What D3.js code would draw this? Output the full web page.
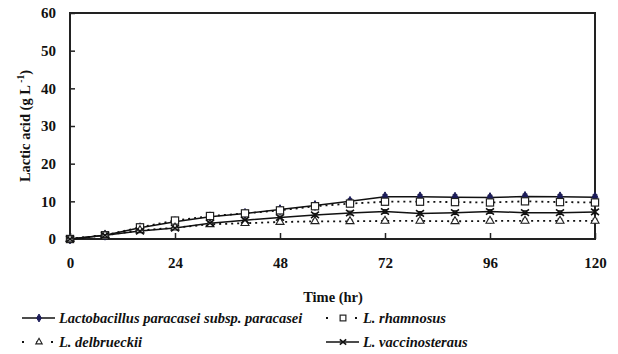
<!DOCTYPE html>
<html><head><meta charset="utf-8">
<script src="https://cdn.jsdelivr.net/npm/d3@7"></script>
<style>
html,body{margin:0;padding:0;background:#fff;}
svg{display:block;}
text{font-family:"Liberation Serif","Times New Roman",serif;font-weight:bold;fill:#111;}
</style></head>
<body>
<svg id="chart" width="618" height="354"></svg>
<script>
const times = [0, 8, 16, 24, 32, 40, 48, 56, 64, 72, 80, 88, 96, 104, 112, 120];
const paracasei = [0, 1.0, 3.0, 4.6, 5.9, 6.8, 7.8, 8.9, 10.0, 11.2, 11.2, 11.1, 11.0, 11.3, 11.2, 11.1];
const rhamnosus = [0, 1.0, 3.1, 4.9, 6.1, 6.8, 7.6, 8.7, 9.4, 9.9, 9.9, 9.8, 9.7, 10.0, 9.8, 9.7];
const delbrueckii = [0, 1.0, 2.3, 3.0, 3.9, 4.2, 4.5, 4.7, 4.7, 4.8, 4.8, 4.7, 4.8, 4.8, 4.8, 4.8];
const vaccinosteraus = [0, 1.0, 2.1, 2.9, 4.2, 5.0, 5.7, 6.4, 6.9, 7.3, 6.8, 7.0, 7.3, 7.0, 7.0, 7.2];
const errParacasei = [0, 0.2, 0.3, 0.3, 0.3, 0.3, 0.4, 0.4, 0.6, 0.6, 0.6, 0.6, 0.6, 0.6, 0.6, 0.6];
const errOther = [0, 0.2, 0.3, 0.3, 0.3, 0.3, 0.4, 0.4, 0.5, 0.5, 0.5, 0.5, 0.5, 0.5, 0.5, 0.5];
const xTicks = [0, 24, 48, 72, 96, 120];
const yTicks = [0, 10, 20, 30, 40, 50, 60];
const seriesNames = ["Lactobacillus paracasei subsp. paracasei", "L. rhamnosus", "L. delbrueckii", "L. vaccinosteraus"];

const svg = d3.select("#chart");
const x = d3.scaleLinear().domain([0, 120]).range([70, 595]);
const y = d3.scaleLinear().domain([0, 60]).range([239, 13]);

// frame
svg.append("rect").attr("x", x(0)).attr("y", y(60)).attr("width", x(120) - x(0)).attr("height", y(0) - y(60))
  .attr("fill", "none").attr("stroke", "#222").attr("stroke-width", 2);

// axes
const xAxis = d3.axisBottom(x).tickValues(xTicks).tickSize(-6).tickPadding(18).tickFormat(d3.format("d"));
const gx = svg.append("g").attr("transform", `translate(0,${y(0)})`).call(xAxis);
gx.select(".domain").remove();
gx.selectAll(".tick line").attr("stroke", "#222").attr("stroke-width", 1.5);
gx.selectAll(".tick text").attr("font-size", 15).attr("dy", "0.71em").style("fill", "#111");

const yAxis = d3.axisLeft(y).tickValues(yTicks).tickSize(-5).tickPadding(14).tickFormat(d3.format("d"));
const gy = svg.append("g").attr("transform", `translate(${x(0)},0)`).call(yAxis);
gy.select(".domain").remove();
gy.selectAll(".tick line").attr("stroke", "#222").attr("stroke-width", 1.5);
gy.selectAll(".tick text").attr("font-size", 15).style("fill", "#111");

// axis titles
svg.append("text").attr("x", 333).attr("y", 302).attr("text-anchor", "middle").attr("font-size", 14.5).text("Time (hr)");
const yt = svg.append("text").attr("transform", "translate(30,126) rotate(-90)").attr("text-anchor", "middle").attr("font-size", 14.5);
yt.append("tspan").text("Lactic acid (g L");
yt.append("tspan").attr("font-size", 9.5).attr("dy", -6).text(" -1");
yt.append("tspan").attr("dy", 6).text(")");

const series = [
  {name: seriesNames[0], vals: paracasei, err: errParacasei, dash: null, marker: "diamond"},
  {name: seriesNames[1], vals: rhamnosus, err: errOther, dash: "2,4", marker: "square"},
  {name: seriesNames[2], vals: delbrueckii, err: errOther, dash: "2,4", marker: "triangle"},
  {name: seriesNames[3], vals: vaccinosteraus, err: errOther, dash: null, marker: "cross"}
];

function drawMarker(g, type, cx, cy, s) {
  s = s || 1;
  if (type === "diamond") {
    g.append("path").attr("d", d3.symbol(d3.symbolDiamond, 28 * s * s)()).attr("transform", `translate(${cx},${cy})`)
      .attr("fill", "#1c1c5a").attr("stroke", "#1c1c5a");
  } else if (type === "square") {
    const h = 3.6 * s;
    g.append("rect").attr("x", cx - h).attr("y", cy - h).attr("width", 2 * h).attr("height", 2 * h)
      .attr("fill", "#fff").attr("stroke", "#222").attr("stroke-width", 1.2);
  } else if (type === "triangle") {
    g.append("path").attr("d", d3.symbol(d3.symbolTriangle, 28 * s * s)()).attr("transform", `translate(${cx},${cy})`)
      .attr("fill", "#fff").attr("stroke", "#222").attr("stroke-width", 1.1);
  } else if (type === "cross") {
    const a = 4 * s, b = 3.2 * s;
    g.append("path").attr("d", `M${cx-a},${cy-b}L${cx+a},${cy+b}M${cx-a},${cy+b}L${cx+a},${cy-b}`)
      .attr("stroke", "#111").attr("stroke-width", 1.6);
  }
}

const line = d3.line().x((d, i) => x(times[i])).y(d => y(d));
series.forEach(s => {
  const g = svg.append("g");
  g.append("path").datum(s.vals).attr("d", line).attr("fill", "none").attr("stroke", "#111")
    .attr("stroke-width", s.dash ? 1.8 : 1.5).attr("stroke-dasharray", s.dash);
  s.vals.forEach((v, i) => {
    const e = s.err[i];
    if (e > 0) {
      g.append("path").attr("d", `M${x(times[i])},${y(v - e)}V${y(v + e)}M${x(times[i]) - 2.5},${y(v + e)}H${x(times[i]) + 2.5}M${x(times[i]) - 2.5},${y(v - e)}H${x(times[i]) + 2.5}`)
        .attr("stroke", "#111").attr("stroke-width", 1);
    }
  });
});
series.forEach(s => {
  const g = svg.append("g");
  s.vals.forEach((v, i) => drawMarker(g, s.marker, x(times[i]), y(v)));
});

// legend
const legPos = [[22, 318], [326, 318], [22, 342], [326, 342]];
series.forEach((s, i) => {
  const [lx, ly] = legPos[i];
  const g = svg.append("g");
  g.append("line").attr("x1", lx).attr("x2", lx + 33).attr("y1", ly).attr("y2", ly)
    .attr("stroke", "#111").attr("stroke-width", s.dash ? 2 : 1.6).attr("stroke-dasharray", s.dash ? "2,12.5" : null);
  drawMarker(g, s.marker, lx + 17, ly, 0.8);
  g.append("text").attr("x", lx + 37).attr("y", ly + 5).attr("font-size", 14.5).attr("font-style", "italic").text(s.name);
});
</script>
</body></html>
